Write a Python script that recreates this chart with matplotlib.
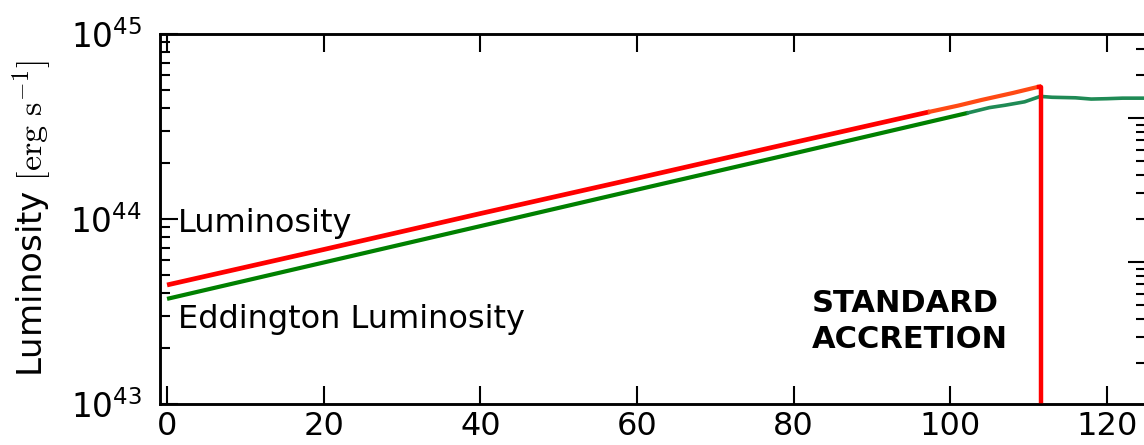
import matplotlib
matplotlib.use("Agg")
import matplotlib.pyplot as plt
import numpy as np

# ---- data ----
lum_t = [0, 20, 40, 60, 80, 97.4]
lum_v = [4.4e43, 6.84e43, 1.07e44, 1.66e44, 2.59e44, 3.80e44]
lum_late_t = [97.4, 101, 104, 108, 111.4]
lum_late_v = [3.80e44, 4.10e44, 4.40e44, 4.80e44, 5.2e44]
drop_t = [111.4, 111.6, 111.6]
drop_v = [5.2e44, 5.2e44, 1e42]

edd_t = [0, 20, 40, 60, 80, 102.3]
edd_v = [3.7e43, 5.82e43, 9.15e43, 1.44e44, 2.26e44, 3.75e44]
edd_late_t = [102.3, 105, 107, 109.5, 111.5, 113, 116, 118, 120, 122, 125]
edd_late_v = [3.75e44, 4.0e44, 4.12e44, 4.3e44, 4.6e44, 4.55e44, 4.52e44, 4.45e44, 4.47e44, 4.5e44, 4.5e44]

xticks = [0, 20, 40, 60, 80, 100, 120]

plt.rcParams['font.family'] = ['DejaVu Sans']
plt.rcParams['mathtext.fontset'] = 'dejavusans'

fig = plt.figure(figsize=(11.44, 4.45), dpi=100)
ax = fig.add_axes([160/1144, 41/445, 986/1144, 370/445])

ax.plot(edd_t, edd_v, color='#008000', lw=3.0, solid_capstyle='butt', zorder=2)
ax.plot(edd_late_t, edd_late_v, color='#1f8a55', lw=2.6, zorder=2)
ax.plot(lum_t, lum_v, color='#ff0000', lw=3.4, solid_capstyle='butt', zorder=3)
ax.plot(lum_late_t, lum_late_v, color='#ff4a14', lw=3.0, zorder=3)
ax.plot(drop_t, drop_v, color='#ff0000', lw=3.2, zorder=4)

ax.set_yscale('log')
ax.set_ylim(1e43, 1e45)
ax.set_xlim(-0.9, 125)
ax.set_xticks(xticks)
ax.set_xticklabels([str(t) for t in xticks])

for s in ax.spines.values():
    s.set_linewidth(1.8)

ax.tick_params(axis='x', which='major', direction='in', length=13, width=1.5,
               top=True, bottom=True, labelsize=23, pad=5)
ax.tick_params(axis='x', which='minor', bottom=False, top=False)
ax.tick_params(axis='y', which='major', direction='in', length=13, width=1.5,
               left=True, right=False, labelsize=23.5, pad=13)
ax.tick_params(axis='y', which='minor', direction='in', length=7, width=1.5,
               left=True, right=False)

lab = ax.set_ylabel(r'Luminosity $[\mathrm{erg\ s^{-1}}]$', fontsize=24.5)
lab.set_math_fontfamily('cm')
ax.yaxis.set_label_coords(-0.108, 0.5)

ax.text(1.4, 8.51e43, 'Luminosity', fontsize=23, ha='left', va='baseline')
ax.text(1.4, 2.58e43, 'Eddington Luminosity', fontsize=23, ha='left', va='baseline')
ax.text(82.3, 3.14e43, 'STANDARD', fontsize=22, fontweight='bold', ha='left', va='baseline')
ax.text(82.3, 2.01e43, 'ACCRETION', fontsize=22, fontweight='bold', ha='left', va='baseline')

tw = ax.twinx()
tw.set_yscale('log')
tw.set_ylim(10**-0.986, 10**1.583)
tw.tick_params(axis='y', which='major', direction='in', length=13, width=1.5,
               labelright=False, right=True)
tw.tick_params(axis='y', which='minor', direction='in', length=7, width=1.5, right=True)
for s in tw.spines.values():
    s.set_linewidth(1.8)

fig.savefig('out.png', dpi=100)
